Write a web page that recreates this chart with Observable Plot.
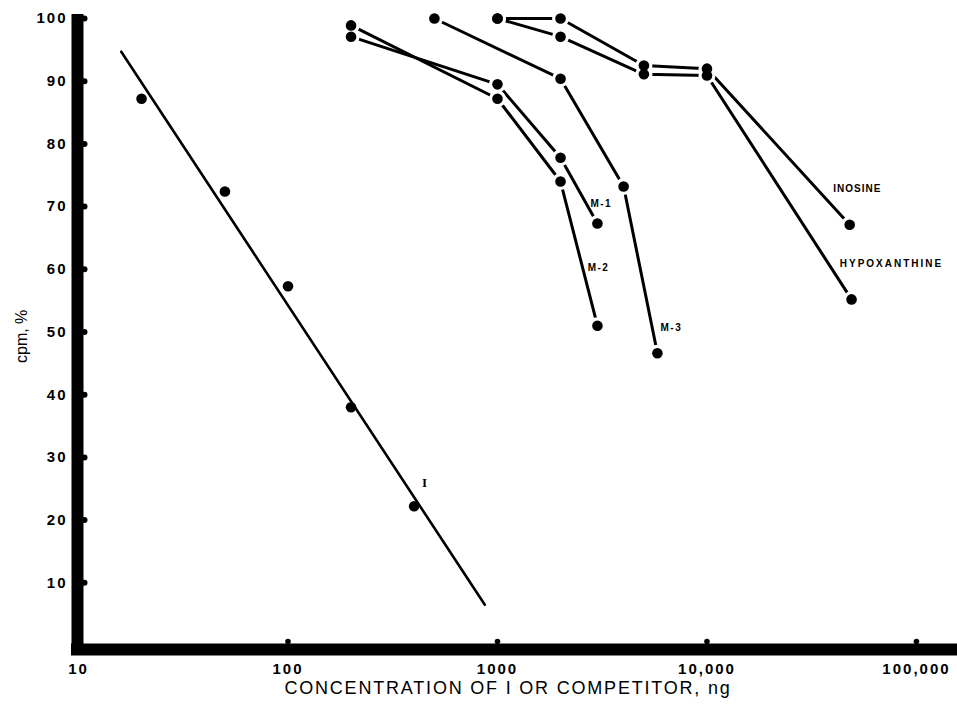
<!DOCTYPE html>
<html>
<head>
<meta charset="utf-8">
<script src="https://cdn.jsdelivr.net/npm/d3@7"></script>
<script src="https://cdn.jsdelivr.net/npm/@observablehq/plot@0.6"></script>
<style>
  html, body { margin: 0; padding: 0; background: #fff; }
  #chart { width: 957px; height: 706px; }
</style>
</head>
<body>
<div id="chart"></div>
<script>
// ---- Data ----
// Standard "I": measured points
const iConc = [20, 50, 100, 200, 400];
const iCpm  = [87.2, 72.4, 57.3, 38.0, 22.2];
// Regression line for "I" (end points)
const iFitConc = [16, 870];
const iFitCpm  = [94.7, 6.5];

// Competitor curves
const m1Conc = [200, 1000, 2000, 3000];
const m1Cpm  = [97.1, 89.5, 77.8, 67.3];
const m2Conc = [200, 1000, 2000, 3000];
const m2Cpm  = [98.9, 87.2, 74.0, 51.0];
const m3Conc = [500, 2000, 4000, 5800];
const m3Cpm  = [100, 90.4, 73.2, 46.6];
const inoConc = [1000, 2000, 5000, 10000, 48000];
const inoCpm  = [100, 100, 92.5, 92.0, 67.1];
const hypConc = [1000, 2000, 5000, 10000, 49000];
const hypCpm  = [100, 97.1, 91.1, 90.9, 55.2];

// Curve labels (text, anchor concentration, anchor cpm)
const labelText = ["M-1", "M-2", "M-3", "INOSINE", "HYPOXANTHINE", "I"];
const labelConc = [3130, 3035, 6760, 52200, 76000, 449];
const labelCpm  = [70.5, 60.3, 50.6, 72.9, 60.8, 26.0];

// Axes
const xTicks = [10, 100, 1000, 10000, 100000];
const xTickLabels = ["10", "100", "1000", "10,000", "100,000"];
const yTicks = [10, 20, 30, 40, 50, 60, 70, 80, 90, 100];
const xDomain = [10, 157000];
const yDomain = [0, 100];
const xTitle = "CONCENTRATION OF I OR COMPETITOR, ng";
const yTitle = "cpm, %";

// ---- Build tables ----
const seriesDefs = [
  ["M-1", m1Conc, m1Cpm],
  ["M-2", m2Conc, m2Cpm],
  ["M-3", m3Conc, m3Cpm],
  ["Inosine", inoConc, inoCpm],
  ["Hypoxanthine", hypConc, hypCpm]
];
const curves = seriesDefs.flatMap(([name, xs, ys]) => xs.map((x, i) => ({series: name, x, y: ys[i]})));
const iPoints = iConc.map((x, i) => ({x, y: iCpm[i]}));
const iFit = iFitConc.map((x, i) => ({x, y: iFitCpm[i]}));
const labels = labelText.map((t, i) => ({t, x: labelConc[i], y: labelCpm[i]}));
const small = labels.filter(d => d.t !== "I");
const bigI = labels.filter(d => d.t === "I");

const font = "Liberation Sans, Arial, Helvetica, sans-serif";

const chart = Plot.plot({
  width: 957,
  height: 706,
  marginLeft: 78,
  marginRight: 0,
  marginTop: 18,
  marginBottom: 61,
  style: {background: "#fff", color: "#000", fontFamily: font},
  x: {type: "log", domain: xDomain, axis: null},
  y: {domain: yDomain, axis: null},
  marks: [
    // regression line for I
    Plot.line(iFit, {x: "x", y: "y", stroke: "#000", strokeWidth: 2.6}),
    // competitor curves
    Plot.line(curves, {x: "x", y: "y", z: "series", stroke: "#000", strokeWidth: 3, strokeLinecap: "butt"}),
    // white halos so segments stop short of the dots
    Plot.dot(curves, {x: "x", y: "y", r: 8.5, fill: "#fff", stroke: "none"}),
    Plot.dot(curves, {x: "x", y: "y", r: 5.3, fill: "#000", stroke: "none"}),
    Plot.dot(iPoints, {x: "x", y: "y", r: 5.3, fill: "#000", stroke: "none"}),
    // heavy axis lines
    Plot.ruleX([xDomain[0]], {stroke: "#000", strokeWidth: 12, dx: -1, insetTop: -4, insetBottom: -10}),
    Plot.ruleY([yDomain[0]], {stroke: "#000", strokeWidth: 12, dy: 4, insetLeft: -7}),
    // tick nubs
    Plot.dot(yTicks, {x: () => xDomain[0], y: d => d, r: 3, fill: "#000", stroke: "none", dx: 6}),
    Plot.dot(xTicks.slice(1), {x: d => d, y: () => yDomain[0], r: 2.8, fill: "#000", stroke: "none", dy: -4}),
    // tick labels
    Plot.axisY({ticks: yTicks, tickSize: 0, tickPadding: 11, fontSize: 15, fontWeight: "bold", label: null}),
    Plot.axisX({ticks: xTicks, tickSize: 0, tickPadding: 18, fontSize: 15, fontWeight: "bold", label: null,
      tickFormat: d => xTickLabels[xTicks.indexOf(d)]}),
    // axis titles
    Plot.text([xTitle], {text: d => d, frameAnchor: "bottom", dy: 48, dx: -10, fontSize: 18, fill: "#000"}),
    Plot.text([yTitle], {text: d => d, frameAnchor: "left", rotate: -90, dx: -57, dy: 31, fontSize: 16, fill: "#000"}),
    // curve labels
    Plot.text(small, {x: "x", y: "y", text: "t", fontSize: 10, fontWeight: "bold", fill: "#000"}),
    Plot.text(bigI, {x: "x", y: "y", text: "t", fontSize: 13, fontWeight: "bold", fill: "#000", fontFamily: "Liberation Serif, serif"})
  ]
});

document.getElementById("chart").appendChild(chart);
const svg = d3.select(chart);
svg.selectAll('[aria-label="y-axis tick label"] text, [aria-label="x-axis tick label"] text')
  .style("letter-spacing", "2px").style("font-size", "15px").style("font-weight", "bold");
svg.selectAll('[aria-label="text"] text').each(function() {
  const el = d3.select(this);
  const t = el.text();
  if (t === "HYPOXANTHINE") el.style("letter-spacing", "2px");
  else if (t === "INOSINE") el.style("letter-spacing", "1px");
  else if (/^M-/.test(t)) el.style("letter-spacing", "1.5px");
  else if (t === xTitle) el.style("letter-spacing", "1.8px");
});
</script>
</body>
</html>
